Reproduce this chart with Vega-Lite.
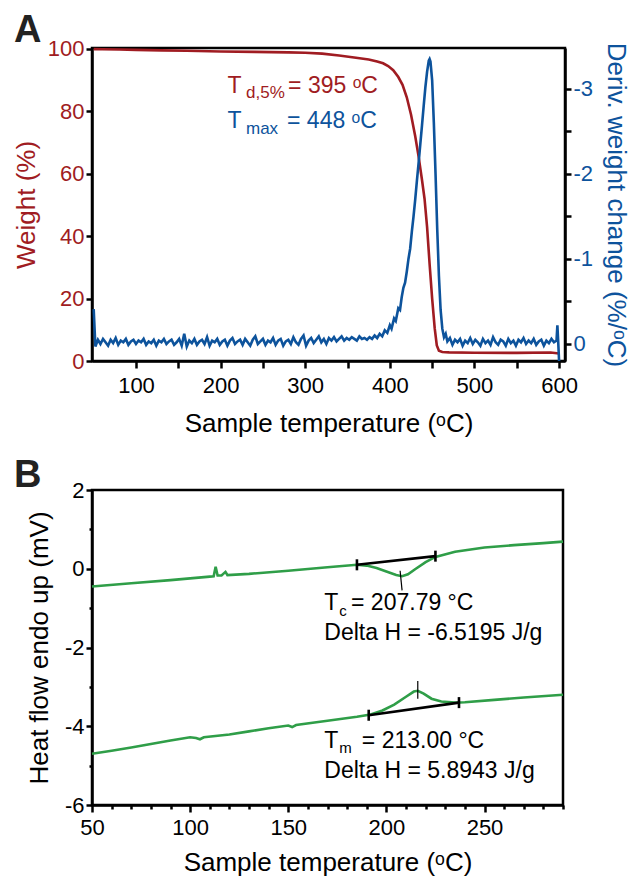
{
  "$schema": "https://vega.github.io/schema/vega-lite/v6.json",
  "background": "white",
  "padding": {"left": 12, "top": 10, "right": 2, "bottom": 2},
  "autosize": {"type": "pad"},
  "bounds": "flush",
  "spacing": 129,
  "config": {
    "font": "Liberation Sans",
    "view": {"stroke": "black", "strokeWidth": 2.5},
    "axis": {"domainColor": "black", "domainWidth": 2.5, "tickColor": "black", "tickWidth": 2.5, "grid": false, "labelFontSize": 22, "titleFontSize": 26, "titleFontWeight": "normal", "labelColor": "black", "titleColor": "black", "labelFont": "Liberation Sans", "titleFont": "Liberation Sans"},
    "title": {"anchor": "start", "frame": "group", "fontSize": 38, "fontWeight": "bold", "color": "#222222", "font": "Liberation Sans", "baseline": "alphabetic"}
  },
  "datasets": {
    "tgaW": [
      {"T": 50, "w": 99.95}, {"T": 60, "w": 99.9}, {"T": 80, "w": 99.8}, {"T": 100, "w": 99.7}, {"T": 130, "w": 99.55}, {"T": 160, "w": 99.4}, {"T": 200, "w": 99.2}, {"T": 240, "w": 99.05}, {"T": 280, "w": 98.9}, {"T": 300, "w": 98.8}, {"T": 320, "w": 98.5}, {"T": 340, "w": 97.9}, {"T": 360, "w": 97.2}, {"T": 375, "w": 96.6}, {"T": 385, "w": 96.0}, {"T": 392, "w": 95.4}, {"T": 398, "w": 94.5}, {"T": 404, "w": 93.2}, {"T": 410, "w": 91.0}, {"T": 415, "w": 88.5}, {"T": 420, "w": 84.5}, {"T": 425, "w": 79.0}, {"T": 430, "w": 72.0}, {"T": 434, "w": 65.5}, {"T": 438, "w": 58.0}, {"T": 441, "w": 52.0}, {"T": 444, "w": 43.0}, {"T": 447, "w": 31.0}, {"T": 450, "w": 20.0}, {"T": 453, "w": 10.5}, {"T": 455.5, "w": 5.0}, {"T": 458, "w": 3.3}, {"T": 462, "w": 2.9}, {"T": 470, "w": 2.75}, {"T": 500, "w": 2.65}, {"T": 550, "w": 2.6}, {"T": 590, "w": 2.7}, {"T": 600, "w": 2.4}
    ],
    "tgaD": [
      {"T": 50, "d": -0.41}, {"T": 52, "d": 0.03}, {"T": 55, "d": -0.05}, {"T": 58, "d": 0.0}, {"T": 61, "d": -0.06}, {"T": 64, "d": -0.02}, {"T": 67, "d": 0.02}, {"T": 70, "d": -0.05}, {"T": 73, "d": -0.01}, {"T": 76, "d": -0.07}, {"T": 79, "d": 0.01}, {"T": 82, "d": -0.04}, {"T": 85, "d": -0.02}, {"T": 88, "d": -0.06}, {"T": 91, "d": 0.01}, {"T": 94, "d": -0.03}, {"T": 97, "d": -0.05}, {"T": 100, "d": 0.0}, {"T": 103, "d": -0.04}, {"T": 106, "d": -0.02}, {"T": 109, "d": -0.06}, {"T": 112, "d": 0.01}, {"T": 115, "d": -0.03}, {"T": 118, "d": -0.01}, {"T": 121, "d": -0.05}, {"T": 124, "d": 0.02}, {"T": 127, "d": -0.04}, {"T": 130, "d": -0.02}, {"T": 133, "d": -0.06}, {"T": 136, "d": 0.0}, {"T": 139, "d": -0.03}, {"T": 142, "d": -0.05}, {"T": 145, "d": 0.01}, {"T": 148, "d": -0.02}, {"T": 151, "d": -0.06}, {"T": 154, "d": 0.02}, {"T": 157, "d": -0.12}, {"T": 160, "d": 0.03}, {"T": 163, "d": -0.04}, {"T": 166, "d": -0.01}, {"T": 169, "d": -0.06}, {"T": 172, "d": 0.01}, {"T": 175, "d": -0.03}, {"T": 178, "d": -0.05}, {"T": 181, "d": 0.0}, {"T": 184, "d": -0.08}, {"T": 187, "d": 0.02}, {"T": 190, "d": -0.04}, {"T": 193, "d": -0.02}, {"T": 196, "d": -0.06}, {"T": 199, "d": 0.01}, {"T": 202, "d": -0.03}, {"T": 205, "d": -0.05}, {"T": 208, "d": 0.02}, {"T": 211, "d": -0.04}, {"T": 214, "d": -0.07}, {"T": 217, "d": 0.0}, {"T": 220, "d": -0.03}, {"T": 223, "d": -0.05}, {"T": 226, "d": 0.01}, {"T": 229, "d": -0.06}, {"T": 232, "d": -0.02}, {"T": 235, "d": 0.02}, {"T": 238, "d": -0.05}, {"T": 241, "d": -0.09}, {"T": 244, "d": 0.0}, {"T": 247, "d": -0.03}, {"T": 250, "d": -0.06}, {"T": 253, "d": 0.01}, {"T": 256, "d": -0.04}, {"T": 259, "d": -0.02}, {"T": 262, "d": -0.07}, {"T": 265, "d": 0.01}, {"T": 268, "d": -0.04}, {"T": 271, "d": -0.06}, {"T": 274, "d": 0.02}, {"T": 277, "d": -0.03}, {"T": 280, "d": -0.05}, {"T": 283, "d": 0.0}, {"T": 286, "d": -0.08}, {"T": 289, "d": -0.02}, {"T": 292, "d": 0.01}, {"T": 295, "d": -0.06}, {"T": 298, "d": -0.1}, {"T": 301, "d": 0.02}, {"T": 304, "d": -0.04}, {"T": 307, "d": -0.07}, {"T": 310, "d": -0.01}, {"T": 313, "d": -0.05}, {"T": 316, "d": -0.09}, {"T": 319, "d": -0.02}, {"T": 322, "d": -0.06}, {"T": 325, "d": 0.0}, {"T": 328, "d": -0.07}, {"T": 331, "d": -0.04}, {"T": 334, "d": -0.08}, {"T": 337, "d": -0.03}, {"T": 340, "d": -0.06}, {"T": 343, "d": -0.09}, {"T": 346, "d": -0.04}, {"T": 349, "d": -0.07}, {"T": 352, "d": -0.05}, {"T": 355, "d": -0.08}, {"T": 358, "d": -0.06}, {"T": 361, "d": -0.04}, {"T": 364, "d": -0.09}, {"T": 367, "d": -0.06}, {"T": 370, "d": -0.07}, {"T": 373, "d": -0.05}, {"T": 376, "d": -0.08}, {"T": 379, "d": -0.06}, {"T": 382, "d": -0.1}, {"T": 385, "d": -0.07}, {"T": 388, "d": -0.12}, {"T": 391, "d": -0.09}, {"T": 394, "d": -0.16}, {"T": 397, "d": -0.13}, {"T": 400, "d": -0.22}, {"T": 402, "d": -0.18}, {"T": 405, "d": -0.3}, {"T": 407, "d": -0.27}, {"T": 410, "d": -0.42}, {"T": 412, "d": -0.4}, {"T": 414, "d": -0.55}, {"T": 416, "d": -0.66}, {"T": 418, "d": -0.72}, {"T": 420, "d": -0.85}, {"T": 422, "d": -1.0}, {"T": 424, "d": -1.12}, {"T": 426, "d": -1.32}, {"T": 428, "d": -1.5}, {"T": 430, "d": -1.7}, {"T": 432, "d": -1.92}, {"T": 434, "d": -2.13}, {"T": 436, "d": -2.35}, {"T": 438, "d": -2.57}, {"T": 440, "d": -2.8}, {"T": 442, "d": -3.02}, {"T": 444, "d": -3.2}, {"T": 446, "d": -3.33}, {"T": 447, "d": -3.35}, {"T": 448, "d": -3.32}, {"T": 450, "d": -3.1}, {"T": 452, "d": -2.6}, {"T": 454, "d": -2.0}, {"T": 456, "d": -1.35}, {"T": 458, "d": -0.8}, {"T": 460, "d": -0.4}, {"T": 462, "d": -0.18}, {"T": 464, "d": -0.08}, {"T": 466, "d": -0.12}, {"T": 468, "d": -0.03}, {"T": 471, "d": -0.07}, {"T": 474, "d": 0.01}, {"T": 477, "d": -0.05}, {"T": 480, "d": -0.02}, {"T": 483, "d": -0.06}, {"T": 486, "d": 0.02}, {"T": 489, "d": -0.04}, {"T": 492, "d": -0.01}, {"T": 495, "d": -0.07}, {"T": 498, "d": 0.0}, {"T": 501, "d": -0.05}, {"T": 504, "d": -0.02}, {"T": 507, "d": 0.02}, {"T": 510, "d": -0.06}, {"T": 513, "d": -0.01}, {"T": 516, "d": -0.04}, {"T": 519, "d": 0.01}, {"T": 522, "d": -0.08}, {"T": 525, "d": -0.02}, {"T": 528, "d": 0.01}, {"T": 531, "d": -0.05}, {"T": 534, "d": -0.03}, {"T": 537, "d": 0.02}, {"T": 540, "d": -0.06}, {"T": 543, "d": -0.01}, {"T": 546, "d": -0.04}, {"T": 549, "d": 0.02}, {"T": 552, "d": -0.05}, {"T": 555, "d": -0.02}, {"T": 558, "d": -0.07}, {"T": 561, "d": 0.0}, {"T": 564, "d": -0.04}, {"T": 567, "d": -0.01}, {"T": 570, "d": -0.06}, {"T": 573, "d": 0.01}, {"T": 576, "d": -0.03}, {"T": 579, "d": -0.05}, {"T": 582, "d": 0.02}, {"T": 585, "d": -0.04}, {"T": 588, "d": -0.01}, {"T": 591, "d": -0.06}, {"T": 594, "d": -0.02}, {"T": 597, "d": -0.04}, {"T": 598, "d": -0.22}, {"T": 599, "d": -0.02}, {"T": 600, "d": 0.2}
    ],
    "aRedMain": [{"T": 208.2, "w": 88.1, "text": "T"}, {"T": 279.7, "w": 88.1, "text": "= 395 ᵒC"}],
    "aRedSub": [{"T": 230, "w": 85.9, "text": "d,5%"}],
    "aBlueMain": [{"T": 208.2, "d": -2.62, "text": "T"}, {"T": 278.5, "d": -2.62, "text": "= 448 ᵒC"}],
    "aBlueSub": [{"T": 230, "d": -2.53, "text": "max"}],
    "dsc": [
      {"c": "top", "T": 50, "v": -0.45}, {"c": "top", "T": 70, "v": -0.37}, {"c": "top", "T": 90, "v": -0.29}, {"c": "top", "T": 110, "v": -0.2}, {"c": "top", "T": 112, "v": -0.19}, {"c": "top", "T": 113, "v": 0.05}, {"c": "top", "T": 114, "v": -0.17}, {"c": "top", "T": 116, "v": -0.17}, {"c": "top", "T": 118, "v": -0.08}, {"c": "top", "T": 119, "v": -0.16}, {"c": "top", "T": 130, "v": -0.13}, {"c": "top", "T": 150, "v": -0.05}, {"c": "top", "T": 170, "v": 0.04}, {"c": "top", "T": 185, "v": 0.1}, {"c": "top", "T": 190, "v": 0.08}, {"c": "top", "T": 195, "v": 0.02}, {"c": "top", "T": 200, "v": -0.07}, {"c": "top", "T": 205, "v": -0.16}, {"c": "top", "T": 208, "v": -0.19}, {"c": "top", "T": 211, "v": -0.14}, {"c": "top", "T": 215, "v": 0.0}, {"c": "top", "T": 220, "v": 0.17}, {"c": "top", "T": 225, "v": 0.3}, {"c": "top", "T": 235, "v": 0.43}, {"c": "top", "T": 250, "v": 0.54}, {"c": "top", "T": 265, "v": 0.6}, {"c": "top", "T": 280, "v": 0.65}, {"c": "top", "T": 290, "v": 0.69},
      {"c": "bot", "T": 50, "v": -4.7}, {"c": "bot", "T": 60, "v": -4.62}, {"c": "bot", "T": 70, "v": -4.54}, {"c": "bot", "T": 80, "v": -4.45}, {"c": "bot", "T": 90, "v": -4.36}, {"c": "bot", "T": 100, "v": -4.28}, {"c": "bot", "T": 103, "v": -4.3}, {"c": "bot", "T": 105, "v": -4.33}, {"c": "bot", "T": 107, "v": -4.28}, {"c": "bot", "T": 120, "v": -4.21}, {"c": "bot", "T": 130, "v": -4.13}, {"c": "bot", "T": 140, "v": -4.05}, {"c": "bot", "T": 150, "v": -3.98}, {"c": "bot", "T": 152, "v": -4.02}, {"c": "bot", "T": 154, "v": -3.97}, {"c": "bot", "T": 170, "v": -3.86}, {"c": "bot", "T": 185, "v": -3.76}, {"c": "bot", "T": 192, "v": -3.7}, {"c": "bot", "T": 198, "v": -3.6}, {"c": "bot", "T": 204, "v": -3.45}, {"c": "bot", "T": 210, "v": -3.25}, {"c": "bot", "T": 214, "v": -3.12}, {"c": "bot", "T": 216, "v": -3.1}, {"c": "bot", "T": 219, "v": -3.17}, {"c": "bot", "T": 223, "v": -3.3}, {"c": "bot", "T": 228, "v": -3.37}, {"c": "bot", "T": 235, "v": -3.4}, {"c": "bot", "T": 240, "v": -3.39}, {"c": "bot", "T": 255, "v": -3.33}, {"c": "bot", "T": 270, "v": -3.27}, {"c": "bot", "T": 290, "v": -3.2}
    ],
    "tangents": [{"T": 185, "v": 0.1, "T2": 225, "v2": 0.32}, {"T": 191, "v": -3.72, "T2": 237, "v2": -3.4}],
    "caps": [{"T": 185, "v": -0.04, "T2": 185, "v2": 0.24}, {"T": 225, "v": 0.18, "T2": 225, "v2": 0.46}, {"T": 191, "v": -3.86, "T2": 191, "v2": -3.58}, {"T": 237, "v": -3.54, "T2": 237, "v2": -3.26}],
    "peaks": [{"T": 207, "v": -0.05, "T2": 208, "v2": -0.55}, {"T": 216, "v": -2.85, "T2": 216, "v2": -3.3}],
    "bMain": [{"T": 168.4, "v": -0.88, "text": "T"}, {"T": 182, "v": -0.88, "text": "= 207.79 °C"}, {"T": 168.4, "v": -1.62, "text": "Delta H = -6.5195 J/g"}, {"T": 168.4, "v": -4.38, "text": "T"}, {"T": 187.5, "v": -4.38, "text": "= 213.00 °C"}, {"T": 168.4, "v": -5.14, "text": "Delta H = 5.8943 J/g"}],
    "bSub": [{"T": 176, "v": -1.07, "text": "c"}, {"T": 176, "v": -4.54, "text": "m"}]
  },
  "vconcat": [
    {
      "width": 473,
      "height": 313,
      "title": {"text": "A", "dx": -78, "offset": -12},
      "encoding": {
        "x": {"field": "T", "type": "quantitative", "scale": {"domain": [48, 607], "nice": false, "zero": false},
          "axis": {"title": "Sample temperature (ᵒC)", "values": [100, 150, 200, 250, 300, 350, 400, 450, 500, 550, 600], "labelExpr": "datum.value % 100 == 0 ? '' + datum.value : ''", "tickSize": 7, "labelPadding": 7, "titlePadding": 14, "labelFlush": false}}
      },
      "layer": [
        {
          "encoding": {"y": {"field": "w", "type": "quantitative", "scale": {"domain": [0, 100.3], "nice": false},
            "axis": {"orient": "left", "title": "Weight (%)", "values": [0, 20, 40, 60, 80, 100], "labelColor": "#a01c22", "titleColor": "#a01c22", "tickSize": 6, "labelPadding": 2, "titlePadding": 8}}},
          "layer": [
            {"data": {"name": "tgaW"}, "mark": {"type": "line", "color": "#a01c22", "strokeWidth": 2.6}},
            {"data": {"name": "aRedMain"}, "mark": {"type": "text", "align": "left", "baseline": "middle", "fontSize": 23, "color": "#a01c22"}, "encoding": {"text": {"field": "text"}}},
            {"data": {"name": "aRedSub"}, "mark": {"type": "text", "align": "left", "baseline": "middle", "fontSize": 17, "color": "#a01c22"}, "encoding": {"text": {"field": "text"}}}
          ]
        },
        {
          "encoding": {"y": {"field": "d", "type": "quantitative", "scale": {"domain": [0.2, -3.48], "nice": false, "zero": false},
            "axis": {"orient": "right", "title": "Deriv. weight change (%/ᵒC)", "values": [0, -0.5, -1, -1.5, -2, -2.5, -3], "labelExpr": "datum.value % 1 == 0 ? '' + datum.value : ''", "labelColor": "#0d539c", "titleColor": "#0d539c", "tickSize": 6, "labelPadding": 2, "titlePadding": 10}}},
          "layer": [
            {"data": {"name": "tgaD"}, "mark": {"type": "line", "color": "#0d539c", "strokeWidth": 2.6}},
            {"data": {"name": "aBlueMain"}, "mark": {"type": "text", "align": "left", "baseline": "middle", "fontSize": 23, "color": "#0d539c"}, "encoding": {"text": {"field": "text"}}},
            {"data": {"name": "aBlueSub"}, "mark": {"type": "text", "align": "left", "baseline": "middle", "fontSize": 17, "color": "#0d539c"}, "encoding": {"text": {"field": "text"}}}
          ]
        }
      ],
      "resolve": {"scale": {"y": "independent"}}
    },
    {
      "width": 471,
      "height": 315,
      "title": {"text": "B", "dx": -78, "offset": -16},
      "encoding": {
        "x": {"field": "T", "type": "quantitative", "scale": {"domain": [50, 290], "nice": false, "zero": false},
          "axis": {"title": "Sample temperature (ᵒC)", "values": [50, 60, 70, 80, 90, 100, 110, 120, 130, 140, 150, 160, 170, 180, 190, 200, 210, 220, 230, 240, 250, 260, 270, 280, 290], "labelExpr": "datum.value % 50 == 0 ? '' + datum.value : ''", "tickSize": {"condition": {"test": "datum.value % 50 == 0", "value": 7}, "value": 4}, "labelPadding": 5, "titlePadding": 11, "labelFlush": false}},
        "y": {"field": "v", "type": "quantitative", "scale": {"domain": [-6, 2], "nice": false, "zero": false},
          "axis": {"title": "Heat flow endo up (mV)", "values": [-6, -5, -4, -3, -2, -1, 0, 1, 2], "labelExpr": "datum.value % 2 == 0 ? '' + datum.value : ''", "tickSize": {"condition": {"test": "datum.value % 2 == 0", "value": 6}, "value": 3}, "labelPadding": 2, "titlePadding": 12}}
      },
      "layer": [
        {"data": {"name": "dsc"}, "mark": {"type": "line", "color": "#2f9e48", "strokeWidth": 2.6}, "encoding": {"detail": {"field": "c"}}},
        {"data": {"name": "tangents"}, "mark": {"type": "rule", "color": "black", "strokeWidth": 2.6}, "encoding": {"x2": {"field": "T2"}, "y2": {"field": "v2"}}},
        {"data": {"name": "caps"}, "mark": {"type": "rule", "color": "black", "strokeWidth": 2.6}, "encoding": {"x2": {"field": "T2"}, "y2": {"field": "v2"}}},
        {"data": {"name": "peaks"}, "mark": {"type": "rule", "color": "black", "strokeWidth": 1.2}, "encoding": {"x2": {"field": "T2"}, "y2": {"field": "v2"}}},
        {"data": {"name": "bMain"}, "mark": {"type": "text", "align": "left", "baseline": "middle", "fontSize": 23, "color": "black"}, "encoding": {"text": {"field": "text"}}},
        {"data": {"name": "bSub"}, "mark": {"type": "text", "align": "left", "baseline": "middle", "fontSize": 15, "color": "black"}, "encoding": {"text": {"field": "text"}}}
      ]
    }
  ]
}
